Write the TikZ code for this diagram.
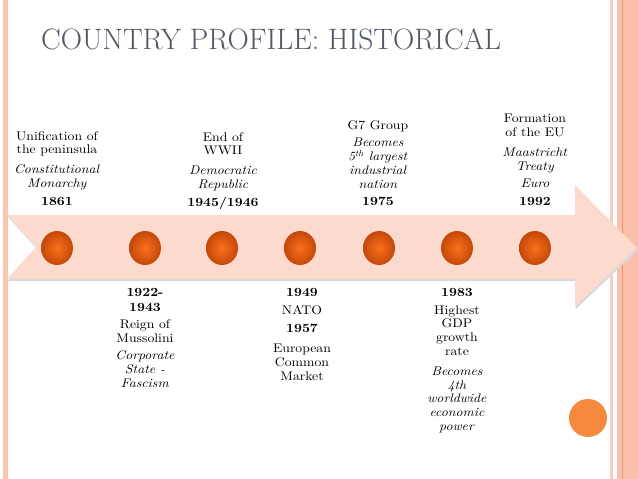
\documentclass[tikz,border=0pt]{standalone}
\usepackage{fontspec}
\usetikzlibrary{shapes.geometric}
\newfontfamily\lblfont{lmroman10}[Extension=.otf, UprightFont=*-regular, BoldFont=*-bold, ItalicFont=*-italic, BoldItalicFont=*-bolditalic, FakeStretch=1.1]
\definecolor{titlegray}{RGB}{82,88,102}
\definecolor{stripe}{RGB}{247,197,178}
\definecolor{stripelight}{RGB}{246,206,192}
\definecolor{band}{RGB}{251,192,172}
\definecolor{bandline}{RGB}{232,150,115}
\definecolor{arrowfill}{RGB}{252,218,206}
\definecolor{dotin}{RGB}{250,112,28}
\definecolor{dotout}{RGB}{196,72,10}
\definecolor{cornerdot}{RGB}{245,138,62}
\tikzset{
  lbl/.style={align=center, inner sep=0pt, font=\lblfont\fontsize{12.5}{13.8}\selectfont},
  dot/.style={ellipse, minimum width=32pt, minimum height=34pt, inner sep=0pt, shading=radial, inner color=dotin, outer color=dotout, draw=none},
}
\begin{document}
\begin{tikzpicture}[x=1pt,y=-1pt]
\useasboundingbox (0,0) rectangle (638,479);
\fill[white] (0,0) rectangle (638,479);
% borders
\fill[stripe] (3,0) rectangle (7.5,479);
\fill[stripelight] (610,0) rectangle (612.5,479);
\fill[band] (617,0) rectangle (638,479);
\fill[bandline] (621.8,0) rectangle (623,479);
% title
\node[anchor=base west, inner sep=0pt, text=titlegray] (title) at (41,49.5)
  {\fontsize{29.5}{32}\selectfont COUNTRY PROFILE: HISTORICAL};
% arrow
\fill[black!15] (8,217) -- (576,217) -- (576,187) -- (638,250) -- (576,309) -- (576,281) -- (8,281) -- (37,249) -- cycle;
\fill[arrowfill] (7,215) -- (575,215) -- (575,185) -- (637,248) -- (575,307) -- (575,279) -- (7,279) -- (36,247) -- cycle;
% dots
\foreach \i/\x in {1/57,2/145,3/222,4/300,5/379,6/457,7/535}
  \node[dot] (d\i) at (\x,248) {};
\node[circle, minimum size=38pt, inner sep=0pt, fill=cornerdot] (corner) at (588,418) {};
% top labels
\node[lbl, anchor=north] (t1) at (57,131)
  {Unification of\\the peninsula\\[6pt]\textit{Constitutional}\\\textit{Monarchy}\\[4pt]\textbf{1861}};
\node[lbl, anchor=north] (t2) at (223,132)
  {End of\\WWII\\[6pt]\textit{Democratic}\\\textit{Republic}\\[4pt]\textbf{1945/1946}};
\node[lbl, anchor=north] (t3) at (378,120)
  {G7 Group\\[4pt]\textit{Becomes}\\\textit{5\textsuperscript{th} largest}\\\textit{industrial}\\\textit{nation}\\[3pt]\textbf{1975}};
\node[lbl, anchor=north] (t4) at (535,114)
  {Formation\\of the EU\\[6pt]\textit{Maastricht}\\\textit{Treaty}\\[4pt]\textit{Euro}\\[4pt]\textbf{1992}};
% bottom labels
\node[lbl, anchor=north] (b1) at (145,288)
  {\textbf{1922-}\\[1pt]\textbf{1943}\\[4pt]Reign of\\Mussolini\\[3pt]\textit{Corporate}\\\textit{State -}\\\textit{Fascism}};
\node[lbl, anchor=north] (b2) at (302,288)
  {\textbf{1949}\\[4pt]NATO\\[4pt]\textbf{1957}\\[7pt]European\\Common\\Market};
\node[lbl, anchor=north] (b3) at (457,288)
  {\textbf{1983}\\[4pt]Highest\\GDP\\growth\\rate\\[6pt]\textit{Becomes}\\\textit{4th}\\\textit{worldwide}\\\textit{economic}\\\textit{power}};
\end{tikzpicture}
\end{document}
